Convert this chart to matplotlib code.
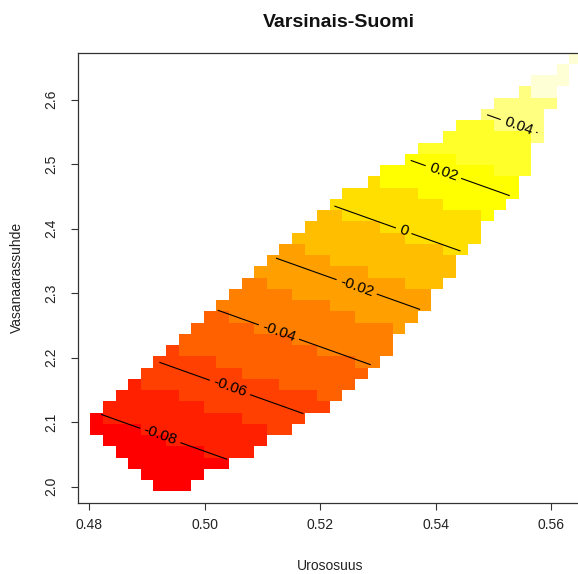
import numpy as np
import matplotlib
matplotlib.use("Agg")
import matplotlib.pyplot as plt
from matplotlib.colors import ListedColormap, BoundaryNorm

plt.rcParams['font.family'] = ['Liberation Sans', 'DejaVu Sans']

# ---- data ----
title = "Varsinais-Suomi"
xlabel = "Urososuus"
ylabel = "Vasanaarassuhde"

# grid cell centres (40 x 40)
x_grid = np.linspace(0.47908, 0.56418, 40)
y_grid = np.linspace(1.98392, 2.66418, 40)

# fitted surface coefficients: z = b0 + bx * x + by * y
b0, bx, by = -0.7262, 0.565, 0.177

# valid (non-NA) column range of every grid row, bottom row first
row_first = [0, 6, 5, 4, 3, 2, 1, 1, 2, 3, 4, 5, 6, 7, 8, 9, 10, 11, 12, 13,
             14, 15, 16, 17, 18, 19, 20, 21, 23, 24, 26, 27, 29, 30, 32, 33, 35, 36, 38, 39]
row_last = [-1, 8, 9, 11, 13, 14, 16, 17, 19, 20, 21, 22, 23, 24, 24, 25, 26, 27, 27, 28,
            29, 29, 30, 31, 31, 32, 33, 34, 34, 35, 35, 35, 36, 36, 36, 37, 37, 38, 38, 39]

contour_levels = [-0.08, -0.06, -0.04, -0.02, 0.0, 0.02, 0.04]
# where along each contour (fraction of its length) the label sits
label_frac = [0.47, 0.49, 0.40, 0.56, 0.55, 0.33, 0.62]

x_ticks = [0.48, 0.50, 0.52, 0.54, 0.56]
x_ticklabels = ["0.48", "0.50", "0.52", "0.54", "0.56"]
y_ticks = [2.0, 2.1, 2.2, 2.3, 2.4, 2.5, 2.6]
y_ticklabels = ["2.0", "2.1", "2.2", "2.3", "2.4", "2.5", "2.6"]

heat12 = ["#FF0000", "#FF2000", "#FF4000", "#FF6000", "#FF8000", "#FF9F00",
          "#FFBF00", "#FFDF00", "#FFFF00", "#FFFF2A", "#FFFF80", "#FFFFD5"]

# ---- surface on the grid ----
XX, YY = np.meshgrid(x_grid, y_grid)
Z = b0 + bx * XX + by * YY
mask = np.ones_like(Z, dtype=bool)
for r, (a, b) in enumerate(zip(row_first, row_last)):
    if b >= a:
        mask[r, a:b + 1] = False
Zm = np.ma.array(Z, mask=mask)

zmin, zmax = Zm.min(), Zm.max()
breaks = np.linspace(zmin, zmax, 13)
breaks[-1] += 1e-9
cmap = ListedColormap(heat12)
norm = BoundaryNorm(breaks, 12)

def edges(c):
    d = np.diff(c)
    mid = c[:-1] + d / 2
    return np.concatenate([[c[0] - d[0] / 2], mid, [c[-1] + d[-1] / 2]])

xe, ye = edges(x_grid), edges(y_grid)

# ---- figure ----
fig = plt.figure(figsize=(5.78, 5.74), dpi=100)
ax = fig.add_axes([77.7 / 578, (574 - 502.7) / 574, 504 / 578, 450 / 574])

ax.pcolormesh(xe, ye, Zm, cmap=cmap, norm=norm, shading='flat',
              edgecolors='none', antialiased=False)

cs = ax.contour(x_grid, y_grid, Zm, levels=contour_levels, colors='black',
                linewidths=0.8, negative_linestyles='solid')

# label each contour at a chosen fraction of its length
positions = []
sx, sy = 1 / (xe[-1] - xe[0]), 1 / (ye[-1] - ye[0])
for path, f in zip(cs.get_paths(), label_frac):
    v = path.vertices
    if len(v) < 2:
        continue
    seg = np.sqrt(((np.diff(v, axis=0) * [sx, sy]) ** 2).sum(1))
    cum = np.concatenate([[0], np.cumsum(seg)])
    t = f * cum[-1]
    k = min(max(np.searchsorted(cum, t), 1), len(v) - 1)
    w = (t - cum[k - 1]) / max(cum[k] - cum[k - 1], 1e-12)
    positions.append(tuple(v[k - 1] + w * (v[k] - v[k - 1])))

def fmt(v):
    return "0" if abs(v) < 1e-12 else f"{v:g}"

ax.clabel(cs, inline=True, fmt=fmt, fontsize=11, manual=positions, inline_spacing=4)

ax.set_xlim(xe[0], xe[-1])
ax.set_ylim(ye[0], ye[-1])

ax.set_xticks(x_ticks)
ax.set_xticklabels(x_ticklabels)
ax.set_yticks(y_ticks)
ax.set_yticklabels(y_ticklabels, rotation=90, va='center')
ax.tick_params(axis='both', direction='out', length=5, width=0.8, labelsize=10,
               color='#333333', labelcolor='#222222')
ax.tick_params(axis='x', pad=6)
ax.tick_params(axis='y', pad=9)

for s in ['left', 'bottom', 'top']:
    ax.spines[s].set_linewidth(0.9)
    ax.spines[s].set_color('#333333')
ax.spines['right'].set_visible(False)

ax.set_xlabel(xlabel, fontsize=10, color='#222222')
ax.xaxis.set_label_coords(0.5, -0.14)
ax.xaxis.label.set_va('center')
ax.set_ylabel(ylabel, fontsize=10, color='#222222')
ax.yaxis.set_label_coords(-0.107, 0.5)

ax.set_title(title, fontsize=14, fontweight='bold', color='#111111',
             pad=0, x=0.518, y=1.058)

fig.savefig("out.png", dpi=100)
